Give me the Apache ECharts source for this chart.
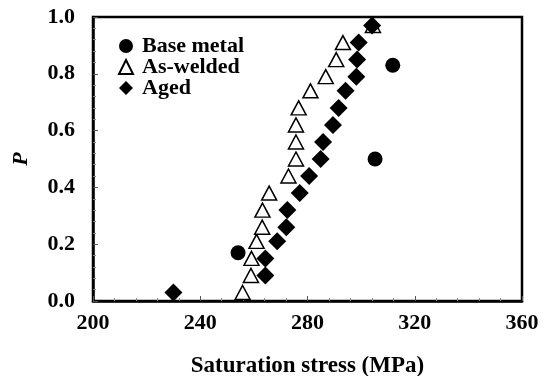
<!DOCTYPE html>
<html>
<head>
<meta charset="utf-8">
<script src="https://cdn.jsdelivr.net/npm/echarts@6/dist/echarts.min.js"></script>
<style>
  html, body { margin: 0; padding: 0; background: #fff; }
  #chart { width: 548px; height: 376px; }
</style>
</head>
<body>
<div id="chart"></div>
<script>
// Saturation stress (MPa) and cumulative probability P for each condition
const baseMetalStress = [254.1, 305.2, 311.8];
const baseMetalP      = [0.17, 0.50, 0.83];

const asWeldedStress = [255.8, 258.9, 259.1, 261.0, 263.1, 263.2, 265.7, 272.9, 275.7,
                        275.7, 275.7, 276.7, 281.1, 286.8, 290.7, 293.2, 304.4];
const asWeldedP      = [0.03, 0.09, 0.15, 0.21, 0.26, 0.32, 0.38, 0.44, 0.50,
                        0.56, 0.62, 0.68, 0.74, 0.79, 0.85, 0.91, 0.97];

const agedStress = [230.0, 264.3, 264.3, 268.7, 272.1, 272.5, 277.1, 280.6, 284.9,
                    285.8, 289.5, 291.6, 294.2, 298.2, 298.5, 299.1, 304.1];
const agedP      = [0.03, 0.09, 0.15, 0.21, 0.26, 0.32, 0.38, 0.44, 0.50,
                    0.56, 0.62, 0.68, 0.74, 0.79, 0.85, 0.91, 0.97];

const xTicks = [200, 240, 280, 320, 360];
const yTicks = [0.0, 0.2, 0.4, 0.6, 0.8, 1.0];

const pair = (xs, ys) => xs.map((x, i) => [x, ys[i]]);

const serif = '"Liberation Serif", "DejaVu Serif", serif';
const chart = echarts.init(document.getElementById('chart'), null, { renderer: 'canvas' });

const tickStyle = { show: true, inside: true, length: 5, lineStyle: { color: '#555', width: 1 } };
const minorStyle = { show: true, splitNumber: 5, length: 3, lineStyle: { color: '#888', width: 1 } };

chart.setOption({
  backgroundColor: '#fff',
  animation: false,
  grid: {
    left: 93, right: 26, top: 17, bottom: 75,
    outerBoundsMode: 'none', containLabel: false,
    show: true, borderColor: '#000', borderWidth: 2.5, backgroundColor: 'transparent'
  },
  legend: {
    orient: 'vertical',
    left: 118, top: 35,
    padding: 0,
    itemWidth: 14, itemHeight: 14, itemGap: -1,
    textStyle: {
      fontFamily: serif, fontWeight: 'bold', fontSize: 22, lineHeight: 20,
      color: '#000', padding: [0, 0, 0, 4]
    },
    data: ['Base metal', 'As-welded', 'Aged']
  },
  xAxis: {
    type: 'value',
    min: xTicks[0], max: xTicks[xTicks.length - 1], interval: 40,
    name: 'Saturation stress (MPa)',
    nameLocation: 'middle', nameGap: 54,
    nameTextStyle: { fontFamily: serif, fontWeight: 'bold', fontSize: 23, color: '#000' },
    axisLine: { show: true, lineStyle: { color: '#000', width: 2.5 } },
    axisTick: tickStyle,
    minorTick: minorStyle,
    splitLine: { show: false },
    axisLabel: { margin: 11, fontFamily: serif, fontWeight: 'bold', fontSize: 22, color: '#000' }
  },
  yAxis: {
    type: 'value',
    min: yTicks[0], max: yTicks[yTicks.length - 1], interval: 0.2,
    name: 'P',
    nameLocation: 'middle', nameGap: 61, nameRotate: 90,
    nameTextStyle: { fontFamily: serif, fontWeight: 'bold', fontStyle: 'italic', fontSize: 22, color: '#000' },
    axisLine: { show: true, lineStyle: { color: '#000', width: 2.5 } },
    axisTick: tickStyle,
    minorTick: minorStyle,
    splitLine: { show: false },
    axisLabel: {
      margin: 18, fontFamily: serif, fontWeight: 'bold', fontSize: 22, color: '#000',
      formatter: v => v.toFixed(1)
    }
  },
  series: [
    {
      name: 'Base metal', type: 'scatter',
      symbol: 'circle', symbolSize: 15,
      itemStyle: { color: '#000', opacity: 1 },
      data: pair(baseMetalStress, baseMetalP), z: 2
    },
    {
      name: 'As-welded', type: 'scatter',
      symbol: 'triangle', symbolSize: [15, 14],
      itemStyle: { color: '#fff', borderColor: '#000', borderWidth: 1.5, opacity: 1 },
      data: pair(asWeldedStress, asWeldedP), z: 3
    },
    {
      name: 'Aged', type: 'scatter',
      symbol: 'diamond', symbolSize: [18, 18],
      itemStyle: { color: '#000', opacity: 1 },
      data: pair(agedStress, agedP), z: 4
    }
  ]
});
</script>
</body>
</html>
